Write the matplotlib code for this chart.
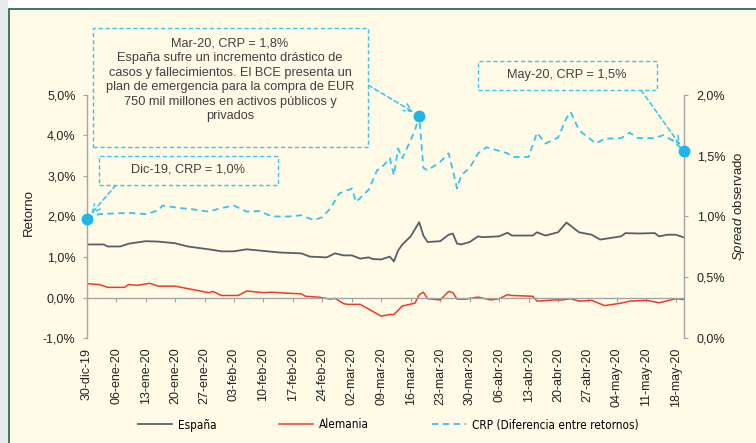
# -*- coding: utf-8 -*-
# Retorno Espana / Alemania y CRP (spread), dic-19 a may-20
import numpy as np
import matplotlib.pyplot as plt
from matplotlib.patches import Rectangle
from matplotlib.ticker import FuncFormatter

# dias desde el 30-dic-2019
dias_esp = [0, 4, 5, 8, 10, 14, 17, 21, 24, 29, 32, 35, 38, 43, 46, 51, 53, 57, 59, 61,
            63, 65, 67, 68, 70, 72, 73, 74, 75, 77, 79, 80, 81, 84, 86, 87, 88, 89, 91, 93,
            94, 98, 100, 101, 106, 107, 109, 112, 114, 117, 120, 122, 127, 128, 131, 135,
            136, 138, 140, 142]
esp = [1.31, 1.31, 1.26, 1.26, 1.33, 1.39, 1.38, 1.34, 1.26, 1.19, 1.14, 1.14, 1.19, 1.14,
       1.11, 1.09, 1.01, 0.99, 1.09, 1.04, 1.04, 0.96, 0.99, 0.95, 0.94, 1.01, 0.89, 1.16,
       1.31, 1.51, 1.86, 1.53, 1.37, 1.39, 1.55, 1.58, 1.33, 1.31, 1.37, 1.51, 1.49, 1.51,
       1.60, 1.53, 1.53, 1.61, 1.53, 1.61, 1.85, 1.61, 1.55, 1.43, 1.51, 1.59, 1.58, 1.59,
       1.51, 1.55, 1.55, 1.48]

dias_ale = [0, 3, 5, 9, 10, 12, 15, 17, 21, 24, 27, 29, 30, 32, 36, 38, 42, 44, 47, 51,
            52, 55, 58, 59, 61, 62, 65, 70, 72, 73, 75, 78, 79, 80, 81, 84, 86, 87, 88, 90,
            93, 96, 98, 100, 101, 106, 107, 111, 113, 115, 117, 120, 123, 127, 129, 133,
            136, 140, 142]
ale = [0.34, 0.32, 0.25, 0.25, 0.32, 0.30, 0.35, 0.28, 0.28, 0.22, 0.16, 0.12, 0.15, 0.05,
       0.05, 0.16, 0.12, 0.13, 0.11, 0.09, 0.03, 0.01, -0.04, -0.02, -0.15, -0.17, -0.17,
       -0.46, -0.42, -0.42, -0.21, -0.14, 0.07, 0.13, -0.03, -0.06, 0.15, 0.12, -0.04,
       -0.04, 0.01, -0.06, -0.03, 0.07, 0.05, 0.03, -0.09, -0.06, -0.06, -0.03, -0.09,
       -0.07, -0.20, -0.14, -0.09, -0.07, -0.13, -0.03, -0.05]

dias_crp = [0, 3, 10, 14, 17, 18, 22, 25, 29, 32, 35, 38, 41, 44, 48, 51, 54, 56, 58, 60,
            63, 64, 67, 69, 70, 72, 73, 74, 75, 77, 78, 79, 80, 81, 84, 86, 87, 88, 89, 91,
            93, 95, 97, 100, 101, 105, 107, 109, 112, 114, 115, 117, 121, 123, 127, 129,
            131, 135, 137, 139, 142]
crp = [0.98, 1.02, 1.03, 1.02, 1.05, 1.09, 1.07, 1.06, 1.04, 1.07, 1.09, 1.04, 1.045, 1.00,
       1.00, 1.01, 0.97, 0.995, 1.07, 1.19, 1.23, 1.12, 1.22, 1.38, 1.40, 1.48, 1.34, 1.56,
       1.48, 1.63, 1.71, 1.83, 1.40, 1.38, 1.45, 1.52, 1.38, 1.23, 1.34, 1.40, 1.52, 1.57,
       1.55, 1.52, 1.49, 1.49, 1.69, 1.60, 1.65, 1.81, 1.86, 1.71, 1.60, 1.64, 1.645, 1.69,
       1.645, 1.645, 1.67, 1.63, 1.54]

semanas = list(range(0, 141, 7))
etiquetas = ['30-dic-19', '06-ene-20', '13-ene-20', '20-ene-20', '27-ene-20', '03-feb-20',
             '10-feb-20', '17-feb-20', '24-feb-20', '02-mar-20', '09-mar-20', '16-mar-20',
             '23-mar-20', '30-mar-20', '06-abr-20', '13-abr-20', '20-abr-20', '27-abr-20',
             '04-may-20', '11-may-20', '18-may-20']

# puntos anotados de la serie CRP
ann_dias = [0, 79, 142]
ann_textos = ['Dic-19, CRP = 1,0%',
              'Mar-20, CRP = 1,8%\nEspaña sufre un incremento drástico de\n'
              'casos y fallecimientos. El BCE presenta un\n'
              'plan de emergencia para la compra de EUR\n'
              '750 mil millones en activos públicos y\nprivados',
              'May-20, CRP = 1,5%']

# colores
crema = '#FFFBE7'
verde = '#2B6B60'
gris_esp = '#55606A'
rojo = '#EC3A2C'
azul = '#36C3F0'
azul_pto = '#1CB6EB'
gris_eje = '#A5A5A5'
texto = '#404040'

plt.rcParams['font.family'] = ['Liberation Sans', 'DejaVu Sans']
plt.rcParams['mathtext.fontset'] = 'custom'
plt.rcParams['mathtext.rm'] = 'Liberation Sans'
plt.rcParams['mathtext.it'] = 'Liberation Sans:italic'

W, H = 756, 443
fig = plt.figure(figsize=(W / 100, H / 100), dpi=100)
fig.patch.set_facecolor('white')


def fx(px):
    return px / W


def fy(py):
    return 1 - py / H


# marco de fondo
fig.add_artist(Rectangle((0, 0), fx(8), 1, transform=fig.transFigure,
                         facecolor='#E9EAEB', edgecolor='none', zorder=-2))
fig.add_artist(Rectangle((fx(8.5), -0.1), 1, fy(9) + 0.1, transform=fig.transFigure,
                         facecolor=crema, edgecolor=verde, lw=1.3, zorder=-1))

ax = fig.add_axes([fx(86.7), fy(338), fx(684.3 - 86.7), (338 - 95) / H])
ax.patch.set_visible(False)
ax2 = ax.twinx()

l1, = ax.plot(dias_esp, esp, color=gris_esp, lw=1.3, label='España')
l2, = ax.plot(dias_ale, ale, color=rojo, lw=1.1, label='Alemania')
l3, = ax2.plot(dias_crp, crp, color=azul, lw=1.3, ls=(0, (3.5, 2.5)),
               label='CRP (Diferencia entre retornos)')

ann_vals = [crp[dias_crp.index(d)] for d in ann_dias]
ax2.plot(ann_dias, ann_vals, 'o', ms=7.5, color=azul_pto, clip_on=False, zorder=5)

ax.set_xlim(0, 142)
ax.set_ylim(-1, 5)
ax2.set_ylim(0, 2)

fmt = FuncFormatter(lambda v, p: ('%.1f%%' % v).replace('.', ','))
ax.set_yticks(np.arange(-1, 5.5, 1))
ax2.set_yticks(np.arange(0, 2.1, 0.5))
ax.yaxis.set_major_formatter(fmt)
ax2.yaxis.set_major_formatter(fmt)

ax.set_xticks(semanas)
ax.set_xticklabels(etiquetas)
ax.spines['bottom'].set_position(('data', 0))
for a in (ax, ax2):
    a.spines['top'].set_visible(False)
ax.spines['right'].set_visible(False)
ax2.spines['left'].set_visible(False)
ax2.spines['bottom'].set_visible(False)
for s in (ax.spines['left'], ax.spines['bottom'], ax2.spines['right']):
    s.set_color(gris_eje)
    s.set_linewidth(1.0)

ax.tick_params(axis='x', length=3, color=gris_eje, pad=33, labelsize=9,
               labelcolor='#222222', labelrotation=90)
ax.tick_params(axis='y', length=3, color=gris_eje, pad=5, labelsize=9, labelcolor='#222222')
ax2.tick_params(axis='y', length=3, color=gris_eje, pad=6, labelsize=9, labelcolor='#222222')

fig.text(fx(29), fy(213), 'Retorno', rotation=90, ha='center', va='center',
         fontsize=9.5, color='#222222')
fig.text(fx(739), fy(206), r'$\mathit{Spread}$ observado', rotation=90, ha='center',
         va='center', fontsize=9.5, color='#222222')

# cajas de anotacion (x0, y0, x1, y1 en pixeles) y centro del texto
cajas = [(99, 156, 278, 185), (93, 28, 368, 147), (478, 61, 657, 90)]
centros = [(188, 170), (230, 80), (567, 75)]
origenes = [(116, 185), (368, 85), (641, 90)]
for (x0, y0, x1, y1), (cx, cy), (ox, oy), s, d, v in zip(cajas, centros, origenes,
                                                          ann_textos, ann_dias, ann_vals):
    fig.add_artist(Rectangle((fx(x0), fy(y1)), fx(x1 - x0), (y1 - y0) / H,
                             transform=fig.transFigure, facecolor=crema, edgecolor=azul,
                             lw=1.0, ls=(0, (3, 2))))
    fig.text(fx(cx), fy(cy), s, ha='center', va='center', fontsize=9.2, color=texto,
             linespacing=1.27)
    ax2.annotate('', xy=(d, v), xytext=(ox, H - oy), textcoords='figure pixels',
                 arrowprops=dict(arrowstyle='->', color=azul, lw=1.1, ls=(0, (3, 2)),
                                 shrinkA=0, shrinkB=5, mutation_scale=14),
                 annotation_clip=False)

fig.legend([l1, l2, l3], [l1.get_label(), l2.get_label(), l3.get_label()],
           loc='center', bbox_to_anchor=(fx(388), fy(425)), ncol=3, frameon=False,
           prop={'family': 'DejaVu Sans', 'stretch': 'condensed', 'size': 8.5},
           handlelength=2.9, columnspacing=5.3, handletextpad=0.5)

fig.savefig('out.png', dpi=100, facecolor=fig.get_facecolor())
